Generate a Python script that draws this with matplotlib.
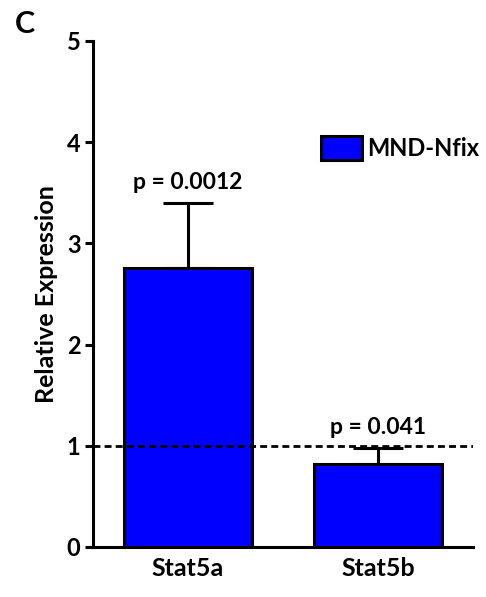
import matplotlib
matplotlib.use("Agg")
import matplotlib.pyplot as plt

categories = ["Stat5a", "Stat5b"]
values = [2.76, 0.82]
errors = [0.64, 0.16]
pvalues = ["p = 0.0012", "p = 0.041"]
series_name = "MND-Nfix"
yticks = [0, 1, 2, 3, 4, 5]

plt.rcParams['font.family'] = ['Lato', 'DejaVu Sans']
plt.rcParams['font.weight'] = 'bold'

fig = plt.figure(figsize=(4.86, 5.97), dpi=100)
ax = fig.add_axes([93/486, 1-547/597, (473-93)/486, (547-41)/597])

x = list(range(len(categories)))
ax.bar(x, values, width=0.67, color="#0000FF", edgecolor="black", linewidth=2.2,
       label=series_name, zorder=2)
ax.errorbar(x, values, yerr=[[0]*len(values), errors], fmt="none", ecolor="black",
            elinewidth=2.2, capsize=18, capthick=2.2, zorder=1)
ax.axhline(1, color="black", linestyle=(0, (2.5, 1.5)), linewidth=2, zorder=3)

for xi, v, e, p in zip(x, values, errors, pvalues):
    ax.text(xi, v + e + 0.1, p, ha="center", va="bottom", fontsize=16.5, fontweight="bold")

ax.set_xlim(-0.5, 1.5)
ax.set_ylim(0, 5)
ax.set_yticks(yticks)
ax.set_xticks(x)
ax.set_xticklabels(categories, fontsize=18, fontweight="bold")
ax.tick_params(axis="y", labelsize=17, width=2.2, length=6, pad=3, direction="out")
ax.tick_params(axis="x", length=0, pad=7)
for t in ax.get_yticklabels():
    t.set_fontweight("bold")
ax.spines["top"].set_visible(False)
ax.spines["right"].set_visible(False)
ax.spines["left"].set_linewidth(2.2)
ax.spines["bottom"].set_linewidth(2.2)
ax.set_ylabel("Relative Expression", fontsize=18, fontweight="bold", labelpad=6)

leg = ax.legend(loc="upper left", bbox_to_anchor=(0.575, 0.83), frameon=False,
                fontsize=17, handlelength=1.74, handleheight=1.14, handletextpad=0.2,
                borderaxespad=0)
for t in leg.get_texts():
    t.set_fontweight("bold")

fig.text(15/486, 1-24/597, "C", fontsize=22, fontweight="bold", ha="left", va="center")

fig.savefig("out.png", dpi=100)
